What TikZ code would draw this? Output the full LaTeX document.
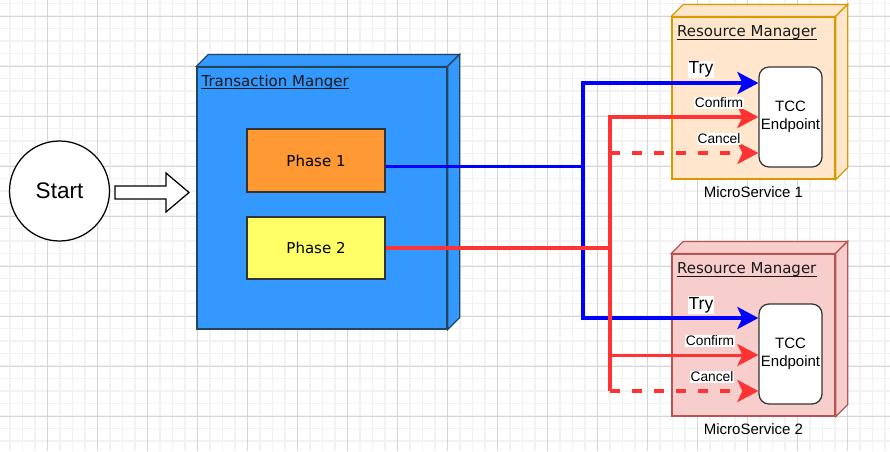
\documentclass[tikz,border=0pt]{standalone}
\usepackage{fontspec}
\setmainfont{Liberation Sans}
\newfontfamily\verd{DejaVu Sans}
\usetikzlibrary{arrows.meta}
\definecolor{gridminor}{HTML}{F2F2F2}
\definecolor{gridmajor}{HTML}{D6D6D6}
\definecolor{tmblue}{HTML}{3399FF}
\definecolor{tmstroke}{HTML}{23445D}
\definecolor{ph1}{HTML}{FF9933}
\definecolor{ph2}{HTML}{FFFF66}
\definecolor{ms1fill}{HTML}{FFE6CC}
\definecolor{ms1stroke}{HTML}{D79B00}
\definecolor{ms2fill}{HTML}{F8CECC}
\definecolor{ms2stroke}{HTML}{B85450}
\definecolor{lblue}{HTML}{0000FF}
\definecolor{lred}{HTML}{FF3333}
\begin{document}
\begin{tikzpicture}[x=1pt,y=-1pt,
  box/.style={draw, line width=1.25pt, inner sep=0pt},
  phasebox/.style={box, draw=black!80, font=\verd\fontsize{15}{18}\selectfont},
  endpoint/.style={draw=black!80, line width=1.25pt, fill=white, rounded corners=10pt, inner sep=0pt,
     minimum width=63pt, minimum height=100pt, align=center, font=\fontsize{15}{17.5}\selectfont},
  rmlabel/.style={anchor=base west, inner sep=0pt, font=\verd\fontsize{15}{18}\selectfont, text=black!90},
  uline/.style={draw=black!90, line width=1pt},
  mslabel/.style={inner sep=0pt, font=\fontsize{15}{18}\selectfont},
  trylabel/.style={fill=white, inner sep=1pt, font=\fontsize{17.5}{20}\selectfont},
  smalllabel/.style={fill=white, inner sep=1pt, font=\fontsize{13.75}{16}\selectfont},
  tip/.style={-{Stealth[length=21pt,width=22pt,inset=5pt]}},
  bl/.style={draw=lblue, line width=3.75pt},
  rd/.style={draw=lred, line width=3.9pt},
  rdthin/.style={draw=lred, line width=3pt},
  dsh/.style={dash pattern=on 10pt off 12pt}
]
\useasboundingbox (0,0) rectangle (890,451);
\fill[white] (0,0) rectangle (890,451);
% grid
\foreach \i in {0,...,70} \draw[gridminor, line width=1.2pt] (10+12.5*\i,0) -- (10+12.5*\i,451);
\foreach \i in {0,...,35} \draw[gridminor, line width=1.2pt] (0,3.5+12.5*\i) -- (890,3.5+12.5*\i);
\foreach \i in {0,...,16} \draw[gridmajor, line width=1pt] (47.5+50*\i,0) -- (47.5+50*\i,451);
\foreach \i in {0,...,8} \draw[gridmajor, line width=1pt] (0,16+50*\i) -- (890,16+50*\i);

% start
\node[circle, draw, line width=1.25pt, fill=white, minimum size=100pt, inner sep=0pt,
      font=\fontsize{22.5}{26}\selectfont] (start) at (59.5,191) {Start};
\draw[line width=1.25pt, fill=white] (115,186) -- (166,186) -- (166,173) -- (189,192.5)
   -- (166,212) -- (166,199) -- (115,199) -- cycle;

% transaction manager
\node[box, draw=tmstroke, fill=tmblue, minimum width=250pt, minimum height=262pt] (tm) at (322,198) {};
\draw[line width=1.25pt, draw=tmstroke, fill=tmblue] (tm.north west) -- ++(12,-12)
   -- ([shift={(12,-12)}]tm.north east) -- (tm.north east) -- cycle;
\draw[line width=1.25pt, draw=tmstroke, fill=tmblue] (tm.north east) -- ++(12,-12)
   -- ([shift={(12,-12)}]tm.south east) -- (tm.south east) -- cycle;
\node[rmlabel] (tml) at ([xshift=5pt,yshift=-20pt]tm.north west) {Transaction Manger};
\draw[uline] ([yshift=-2.2pt]tml.base west) -- ([yshift=-2.2pt]tml.base east);
\node[phasebox, fill=ph1, minimum width=138pt, minimum height=63pt] (p1) at (316,160.5) {Phase 1};
\node[phasebox, fill=ph2, minimum width=138pt, minimum height=62pt] (p2) at (316,248) {Phase 2};

% microservice 1
\node[box, draw=ms1stroke, fill=ms1fill, minimum width=163pt, minimum height=162pt] (ms1) at (753.5,98) {};
\draw[line width=1.25pt, draw=ms1stroke, fill=ms1fill] (ms1.north west) -- ++(12,-12)
   -- ([shift={(12,-12)}]ms1.north east) -- (ms1.north east) -- cycle;
\draw[line width=1.25pt, draw=ms1stroke, fill=ms1fill] (ms1.north east) -- ++(12,-12)
   -- ([shift={(12,-12)}]ms1.south east) -- (ms1.south east) -- cycle;
\node[rmlabel] (rm1) at ([xshift=5.5pt,yshift=-20.5pt]ms1.north west) {Resource Manager};
\draw[uline] ([yshift=-2.2pt]rm1.base west) -- ([yshift=-2.2pt]rm1.base east);
\node[mslabel] (ms1l) at ([yshift=-13pt]ms1.south) {MicroService 1};
\node[endpoint] (tcc1) at (790.5,117) {TCC\\Endpoint};

% microservice 2
\node[box, draw=ms2stroke, fill=ms2fill, minimum width=163pt, minimum height=162pt] (ms2) at (753.5,335) {};
\draw[line width=1.25pt, draw=ms2stroke, fill=ms2fill] (ms2.north west) -- ++(12,-12)
   -- ([shift={(12,-12)}]ms2.north east) -- (ms2.north east) -- cycle;
\draw[line width=1.25pt, draw=ms2stroke, fill=ms2fill] (ms2.north east) -- ++(12,-12)
   -- ([shift={(12,-12)}]ms2.south east) -- (ms2.south east) -- cycle;
\node[rmlabel] (rm2) at ([xshift=5.5pt,yshift=-20.5pt]ms2.north west) {Resource Manager};
\draw[uline] ([yshift=-2.2pt]rm2.base west) -- ([yshift=-2.2pt]rm2.base east);
\node[mslabel] (ms2l) at ([yshift=-13pt]ms2.south) {MicroService 2};
\node[endpoint] (tcc2) at (790.5,354) {TCC\\Endpoint};

% connector helpers
\coordinate (bx) at (583,0);
\coordinate (rx) at (610,0);
\coordinate (p1out) at ([yshift=-6pt]p1.east);
\coordinate (try1) at ([yshift=34pt]tcc1.west);
\coordinate (conf1) at (tcc1.west);
\coordinate (canc1) at ([yshift=-36pt]tcc1.west);
\coordinate (try2) at ([yshift=36pt]tcc2.west);
\coordinate (conf2) at ([yshift=-1pt]tcc2.west);
\coordinate (canc2) at ([yshift=-37pt]tcc2.west);

% blue connectors
\draw[bl, tip] (p1out) -| (try1 -| bx) -- (try1);
\draw[bl, tip] (p1out) -| (try2 -| bx) -- (try2);
% red connectors
\draw[rd, tip] (p2.east) -| (conf1 -| rx) -- (conf1);
\draw[rd] (p2.east) -| (canc2 -| rx);
\draw[rd, dsh, tip] (canc1 -| rx) -- (canc1);
\draw[rdthin, tip] (conf2 -| rx) -- (conf2);
\draw[rd, dsh, tip] (canc2 -| rx) -- (canc2);

% labels
\node[trylabel] (lt1) at (701,69.5) {Try};
\node[smalllabel] (lc1) at (719,103) {Confirm};
\node[smalllabel] (lx1) at (719,139) {Cancel};
\node[trylabel] (lt2) at (701,305) {Try};
\node[smalllabel] (lc2) at (710,341) {Confirm};
\node[smalllabel] (lx2) at (712,377) {Cancel};
\end{tikzpicture}
\end{document}
